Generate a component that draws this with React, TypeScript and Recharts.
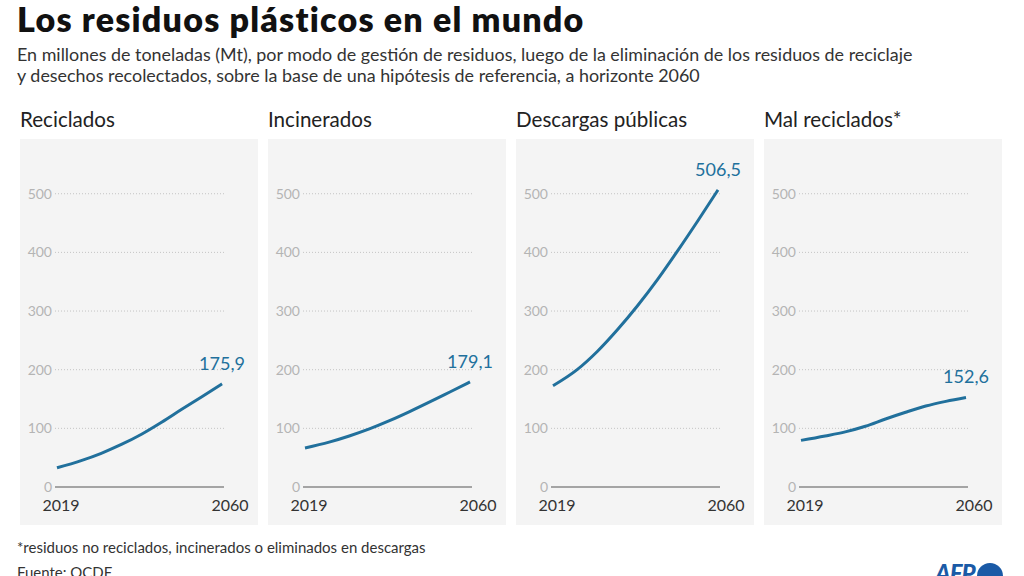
import * as React from 'react';
import {LineChart, Line, XAxis, YAxis, CartesianGrid, LabelList} from "recharts";

const years = [2019, 2025, 2030, 2035, 2040, 2045, 2050, 2055, 2060];
const reciclados = [32.7, 45, 57.5, 72.5, 90, 110.5, 132.5, 154, 175.9];
const incinerados = [66.5, 76.5, 87, 99, 113, 128.5, 145, 162, 179.1];
const descargas = [172.5, 200, 231, 268, 309, 354, 403, 454, 506.5];
const malReciclados = [79.5, 87, 94, 103.5, 116, 127.5, 138, 146, 152.6];

const panelTitles = ["Reciclados", "Incinerados", "Descargas públicas", "Mal reciclados*"];
const yTicks = [0, 100, 200, 300, 400, 500];
const xTicks = [2019, 2060];

const FONT = "Lato, 'Noto Sans', sans-serif";
const BLUE = "#21709c";

function formatValue(v: number) {
    return v.toFixed(1).replace(".", ",");
}

function YearTick(props: any) {
    const {x, y, payload} = props;
    const dx = payload.value === 2019 ? 4 : 8;
    return (
        <text x={x + dx} y={y} dy="0.71em" textAnchor="middle" fill="#333"
              fontSize={16} fontFamily={FONT}>{payload.value}</text>
    );
}

function Panel(props: {title: string, values: number[], left: number}) {
    const data = years.map((y, i) => ({year: y, value: props.values[i]}));
    const last = data.length - 1;
    return (
        <div style={{position: 'absolute', left: props.left, top: 104}}>
            <div style={{fontSize: 20.6, color: '#222', height: 35, lineHeight: '30px'}}>{props.title}</div>
            <div style={{background: '#f4f4f4', width: 238, height: 386}}>
                <LineChart width={238} height={386} data={data}
                           margin={{top: 43, right: 34, left: 0, bottom: 0}}>
                    <CartesianGrid vertical={false} stroke="#c4c4c4" strokeDasharray="1 2"
                                   horizontalValues={[100, 200, 300, 400, 500]} />
                    <XAxis dataKey="year" type="number" domain={[2019, 2060]} ticks={xTicks}
                           height={38} tickSize={0} tickMargin={13} padding={{left: 2, right: 2}}
                           axisLine={{stroke: '#8a8a8a', strokeWidth: 1.5}}
                           tick={<YearTick />} />
                    <YAxis domain={[0, 520]} ticks={yTicks} width={35} tickSize={0} tickMargin={3}
                           axisLine={false}
                           tick={{fill: '#b4b4b4', fontSize: 14, fontFamily: FONT}} />
                    <Line type="monotone" dataKey="value" stroke={BLUE} strokeWidth={3}
                          dot={false} isAnimationActive={false}>
                        <LabelList dataKey="value" content={(p: any) => p.index === last ? (
                            <text x={p.x} y={p.y - 14} textAnchor="middle" fill={BLUE}
                                  fontSize={18} fontFamily={FONT}>{formatValue(p.value)}</text>
                        ) : null} />
                    </Line>
                </LineChart>
            </div>
        </div>
    );
}

export default function App() {
    const series = [reciclados, incinerados, descargas, malReciclados];
    return (
        <div style={{position: 'absolute', left: 0, top: 0, width: 1024, height: 576,
            background: '#fff', fontFamily: FONT, overflow: 'hidden'}}>
            <div style={{position: 'absolute', left: 17, top: 1, fontSize: 34, fontWeight: 800,
                color: '#111', lineHeight: '36px', letterSpacing: 1.2}}>Los residuos plásticos en el mundo</div>
            <div style={{position: 'absolute', left: 17, top: 44, fontSize: 17.9, color: '#333',
                lineHeight: '21px'}}>
                En millones de toneladas (Mt), por modo de gestión de residuos, luego de la eliminación de los residuos de reciclaje<br/>
                y desechos recolectados, sobre la base de una hipótesis de referencia, a horizonte 2060
            </div>
            {panelTitles.map((t, i) => (
                <Panel key={t} title={t} values={series[i]} left={20 + i * 248} />
            ))}
            <div style={{position: 'absolute', left: 17, top: 538, fontSize: 15, color: '#333'}}>
                *residuos no reciclados, incinerados o eliminados en descargas
            </div>
            <div style={{position: 'absolute', left: 17, top: 563, fontSize: 15, color: '#333'}}>
                Fuente: OCDE
            </div>
            <div style={{position: 'absolute', left: 935, top: 558, fontSize: 24, fontWeight: 900,
                color: '#1a5aa6', fontStyle: 'italic', letterSpacing: -1}}>
                AFP
                <span style={{display: 'inline-block', width: 26, height: 26, borderRadius: 13,
                    background: '#1a5aa6', marginLeft: 2, verticalAlign: 'middle'}} />
            </div>
        </div>
    );
}
